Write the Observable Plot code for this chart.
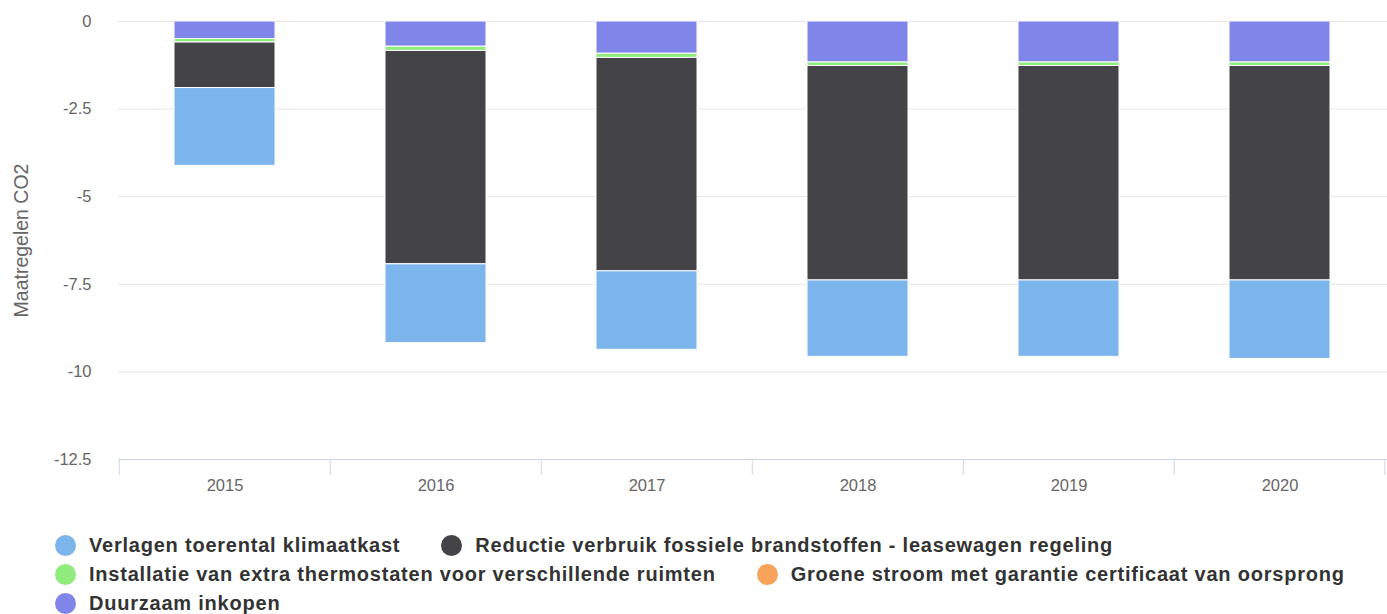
<!DOCTYPE html>
<html>
<head>
<meta charset="utf-8">
<script src="https://cdn.jsdelivr.net/npm/d3@7"></script>
<script src="https://cdn.jsdelivr.net/npm/@observablehq/plot@0.6"></script>
<style>
  html, body { margin: 0; padding: 0; background: #fff; }
  body { width: 1387px; height: 614px; overflow: hidden; font-family: "Liberation Sans", Arial, Helvetica, sans-serif; }
  #legend { position: absolute; left: 55px; top: 531px; }
  .row { display: flex; height: 29px; align-items: center; }
  .item { display: flex; align-items: center; margin-right: 41px; font-weight: bold; font-size: 20px; letter-spacing: 0.78px; color: #333; white-space: nowrap; }
  .dot { width: 21px; height: 21px; border-radius: 50%; margin-right: 13px; flex: none; }
</style>
</head>
<body>
<div id="chart"></div>
<div id="legend"></div>
<script>
const years = ["2015", "2016", "2017", "2018", "2019", "2020"];
const seriesNames = [
  "Verlagen toerental klimaatkast",
  "Reductie verbruik fossiele brandstoffen - leasewagen regeling",
  "Installatie van extra thermostaten voor verschillende ruimten",
  "Groene stroom met garantie certificaat van oorsprong",
  "Duurzaam inkopen"
];
const seriesColors = ["#7cb5ec", "#434348", "#90ed7d", "#f7a35c", "#8085e9"];
const verlagen    = [-2.22, -2.25, -2.24, -2.18, -2.18, -2.24];
const reductie    = [-1.30, -6.09, -6.09, -6.12, -6.12, -6.12];
const installatie = [-0.10, -0.12, -0.12, -0.10, -0.10, -0.10];
const groene      = [0, 0, 0, 0, 0, 0];
const duurzaam    = [-0.50, -0.72, -0.92, -1.17, -1.17, -1.17];
const yTicks = [0, -2.5, -5, -7.5, -10, -12.5];
const legendRows = [[0, 1], [2, 3], [4]];

const seriesValues = [verlagen, reductie, installatie, groene, duurzaam];
// stack order: series nearest zero first (Duurzaam), Verlagen furthest
const stackOrder = [4, 3, 2, 1, 0];
const data = [];
for (const s of stackOrder) {
  years.forEach((yr, i) => data.push({year: yr, series: seriesNames[s], value: seriesValues[s][i]}));
}

const W = 1387, H = 520;
const marginLeft = 118, marginTop = 21, marginBottom = 61, marginRight = 0;
const step = (W - marginLeft - marginRight) / years.length;
const font = '"Liberation Sans", Arial, Helvetica, sans-serif';

const chart = Plot.plot({
  width: W,
  height: H,
  marginLeft, marginTop, marginBottom, marginRight,
  style: {fontFamily: font, fontSize: "16.5px", color: "#666", background: "#fff"},
  x: {domain: years, paddingInner: 0.52, paddingOuter: 0.26},
  y: {domain: [-12.5, 0]},
  color: {domain: seriesNames, range: seriesColors},
  marks: [
    Plot.ruleY(yTicks.filter(d => d !== -12.5), {stroke: "#e6e6e6", strokeWidth: 1}),
    Plot.barY(data, Plot.stackY({
      x: "year", y: "value", fill: "series", order: null,
      stroke: "white", strokeWidth: 1
    })),
    Plot.ruleY([-12.5], {stroke: "#ccd6eb", strokeWidth: 1}),
    Plot.axisY({ticks: yTicks, tickSize: 0, tickPadding: 27, tickFormat: d => String(d), fill: "#666", fontSize: 16.5, label: null}),
    Plot.axisY({ticks: [], tickSize: 0, fontSize: 19.5, fill: "#666",
      label: "Maatregelen CO2", labelAnchor: "center", labelArrow: "none", labelOffset: 104}),
    Plot.axisX({tickSize: 0, tickPadding: 20, label: null, fill: "#666", fontSize: 16.5}),
    Plot.axisX({tickSize: 16, dx: -step / 2, tickFormat: () => "", label: null, stroke: "#ccd6eb"}),
    Plot.axisX({ticks: [years[years.length - 1]], tickSize: 16, dx: step / 2 - 1, tickFormat: () => "", label: null, stroke: "#ccd6eb"})
  ]
});
document.getElementById("chart").appendChild(chart);

const legend = document.getElementById("legend");
for (const row of legendRows) {
  const r = document.createElement("div");
  r.className = "row";
  for (const s of row) {
    const it = document.createElement("div");
    it.className = "item";
    const dot = document.createElement("span");
    dot.className = "dot";
    dot.style.background = seriesColors[s];
    const t = document.createElement("span");
    t.textContent = seriesNames[s];
    it.appendChild(dot);
    it.appendChild(t);
    r.appendChild(it);
  }
  legend.appendChild(r);
}
</script>
</body>
</html>
